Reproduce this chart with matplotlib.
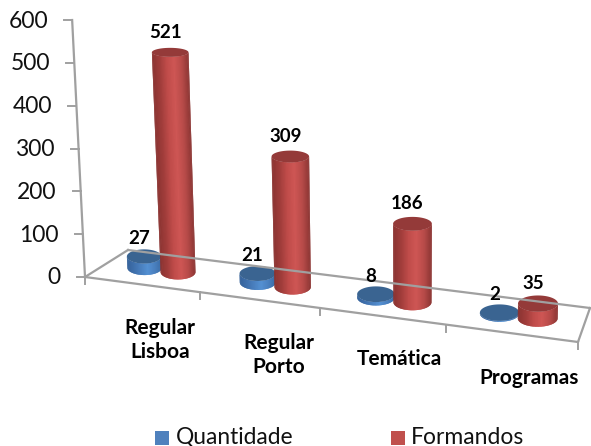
import numpy as np
import matplotlib
matplotlib.use('Agg')
import matplotlib.pyplot as plt
from matplotlib.collections import PolyCollection
from matplotlib.colors import LinearSegmentedColormap
from matplotlib.patches import Rectangle

plt.rcParams['font.family'] = ['Lato', 'DejaVu Sans']

categories = ['Regular\nLisboa', 'Regular\nPorto', 'Temática', 'Programas']
quantidade = [27, 21, 8, 2]
formandos = [521, 309, 186, 35]
y_ticks = [0, 100, 200, 300, 400, 500, 600]

cat_label_xy = [(160, 340), (279, 355), (399, 359), (529, 378)]
px_per_unit = 0.4283
lean_x0, lean_d = 410, 6500

# floor corners in pixels: front-left, front-right, back-right, back-left
src = [(0, 0), (4, 0), (4, 1), (0, 1)]
dst = [(85, 277), (578, 342), (590, 308), (128, 250)]
A, b = [], []
for (u, v), (x, y) in zip(src, dst):
    A.append([u, v, 1, 0, 0, 0, -u * x, -v * x])
    A.append([0, 0, 0, u, v, 1, -u * y, -v * y])
    b += [x, y]
H = np.append(np.linalg.solve(np.array(A, float), np.array(b, float)), 1).reshape(3, 3)


def project(cat, depth, value=0):
    p = H @ np.array([cat, depth, 1.0])
    x, y = p[0] / p[2], p[1] / p[2]
    h = value * px_per_unit * (1 - 0.03 * depth)
    return x + (x - lean_x0) * h / lean_d, y - h


red_map = LinearSegmentedColormap.from_list('r', ['#8C3533', '#B84B49', '#CE5654', '#C04C4A', '#A03D3B', '#8A3331'])
blue_map = LinearSegmentedColormap.from_list('b', ['#3A6CA6', '#4A80BF', '#5490D2', '#4A80BF', '#3F70AC', '#35629A'])


def cylinder(ax, cat, value, cmap, top_color):
    x0, y0 = project(cat, 0.5)
    x1, y1 = project(cat, 0.5, value)
    rx = project(cat + 0.155, 0.5)[0] - x0
    rx_top = rx * (1 + 0.05 * value / 521)
    ry = rx * 0.42
    ry_top = rx_top * (0.42 - 0.2 * value / 600)
    th = np.linspace(np.pi, 0, 41)
    for i in range(len(th) - 1):
        # each strip runs on under the next one, so no seams show
        a, c = th[i], th[min(i + 2, len(th) - 1)]
        poly = [(x0 + rx * np.cos(a), y0 + ry * np.sin(a)),
                (x0 + rx * np.cos(c), y0 + ry * np.sin(c)),
                (x1 + rx_top * np.cos(c), y1 + ry_top * np.sin(c)),
                (x1 + rx_top * np.cos(a), y1 + ry_top * np.sin(a))]
        col = cmap(1 - (np.cos((th[i] + th[i + 1]) / 2) + 1) / 2)
        ax.add_collection(PolyCollection([poly], facecolors=[col], linewidths=0))
    t = np.linspace(0, 2 * np.pi, 80)
    ax.fill(x1 + rx_top * np.cos(t), y1 + ry_top * np.sin(t), color=top_color, lw=0)
    return x1, y1


fig = plt.figure(figsize=(5.91, 4.46), dpi=100)
ax = fig.add_axes([0, 0, 1, 1])
ax.set_xlim(0, 591)
ax.set_ylim(446, 0)
ax.axis('off')

axis_color = '#A0A0A0'
# floor outline and value axis
for c0, d0, c1, d1 in [(0, 1, 4, 1), (0, 0, 0, 1), (4, 0, 4, 1), (0, 0, 4, 0)]:
    p0, p1 = project(c0, d0), project(c1, d1)
    ax.plot([p0[0], p1[0]], [p0[1], p1[1]], color=axis_color, lw=1.6)
top = project(0, 0, y_ticks[-1])
base = project(0, 0)
ax.plot([base[0], top[0]], [base[1], top[1]], color=axis_color, lw=1.6)
for v in y_ticks:
    x, y = project(0, 0, v)
    ax.plot([x - 8, x], [y, y], color=axis_color, lw=1.4)
    ax.text(x - 24, y + 1, str(v), ha='right', va='center', fontsize=16.5, color='#111111')
for i in range(len(categories) + 1):
    x, y = project(i, 0)
    ax.plot([x, x], [y, y + 7], color=axis_color, lw=1.4)

# bars, back to front inside each category
for i in range(len(categories)):
    xb, yb = cylinder(ax, i + 0.34, quantidade[i], blue_map, '#3A6491')
    xr, yr = cylinder(ax, i + 0.64, formandos[i], red_map, '#943A39')
    ax.text(xb - 5, yb - 18, str(quantidade[i]), ha='center', va='center', fontsize=13.5, fontweight='bold', color='black')
    ax.text(xr - 5, yr - 20, str(formandos[i]), ha='center', va='center', fontsize=13.5, fontweight='bold', color='black')
    ax.text(cat_label_xy[i][0], cat_label_xy[i][1], categories[i], ha='center', va='center',
            fontsize=15, fontweight='bold', color='black', linespacing=1.3)

# legend
ax.add_patch(Rectangle((155, 431), 14, 14, color='#4F81BD', lw=0))
ax.text(176, 437, 'Quantidade', ha='left', va='center', fontsize=16.4, color='#111111')
ax.add_patch(Rectangle((391, 431), 14, 14, color='#C0504D', lw=0))
ax.text(411, 437, 'Formandos', ha='left', va='center', fontsize=16.5, color='#111111')

fig.savefig('out.png', dpi=100)
